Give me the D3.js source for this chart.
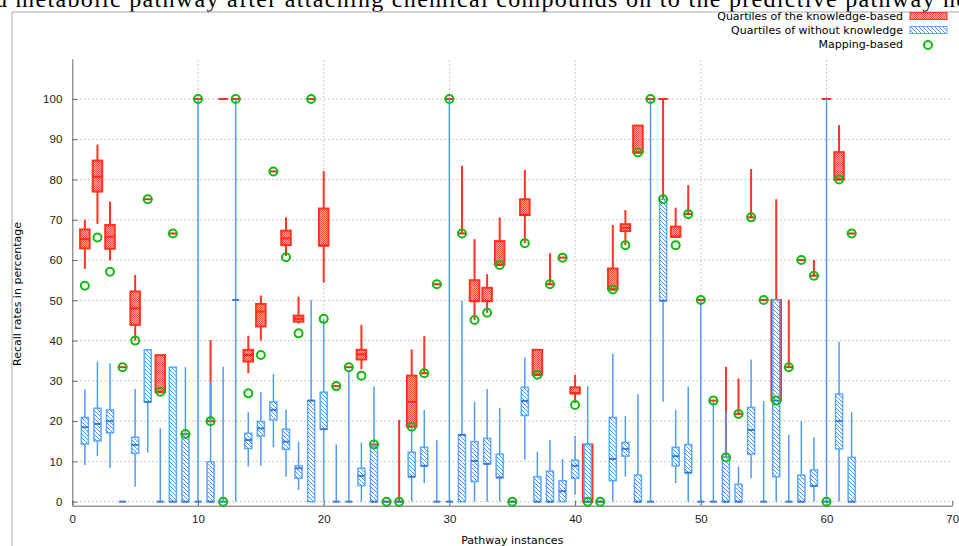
<!DOCTYPE html>
<html>
<head>
<meta charset="utf-8">
<title>Recall rates per pathway instance</title>
<script src="https://d3js.org/d3.v7.min.js"></script>
<style>
  body { margin: 0; background: #fff; }
  svg { display: block; font-family: "DejaVu Sans", sans-serif; }
  .axis path, .axis line { stroke: #666; }
  .axis text { font-size: 11.5px; fill: #222; }
  .grid line { stroke: #bbb; stroke-dasharray: 1.5,2.5; }
</style>
</head>
<body>
<svg id="chart" width="959" height="546"></svg>
<script>
// pathway instance numbers (x positions)
var instances = [1,2,3,4,5,6,7,8,9,10,11,12,13,14,15,16,17,18,19,20,21,22,23,24,25,26,27,28,29,30,
  31,32,33,34,35,36,37,38,39,40,41,42,43,44,45,46,47,48,49,50,51,52,53,54,55,56,57,58,59,60,61,62];

// quartiles of the knowledge-based recall: [min, q1, median, q3, max]
var knowledgeBased = [
  [57.8,62.9,65.2,67.6,70.0],[69.0,77.0,80.7,84.7,88.7],[59.9,62.8,65.8,68.7,74.5],[33.4,33.4,33.4,33.4,33.4],
  [40.0,43.9,48.0,52.2,56.3],[75.1,75.1,75.1,75.1,75.1],[27.2,27.2,27.2,36.4,36.4],[66.6,66.6,66.6,66.6,66.6],
  [16.8,16.8,16.8,16.8,16.8],[100,100,100,100,100],[20.0,20.0,20.0,20.0,40.1],[100,100,100,100,100],
  [100,100,100,100,100],[31.9,34.8,36.4,37.7,41.2],[40.0,43.5,47.2,49.1,51.2],[82.0,82.0,82.0,82.0,82.0],
  [61.0,63.7,65.4,67.3,70.6],[44.2,44.7,45.4,46.2,50.9],[100,100,100,100,100],[54.4,63.6,63.6,72.8,82.1],
  [28.7,28.7,28.7,28.7,28.7],[33.4,33.4,33.4,33.4,33.4],[32.9,35.3,36.6,37.7,43.9],[14.2,14.2,14.2,14.2,14.2],
  [0,0,0,0,0],[0,0,0,0,20.3],[18.6,18.6,24.8,31.3,37.8],[31.9,31.9,31.9,31.9,41.1],
  [54.0,54.0,54.0,54.0,54.0],[100,100,100,100,100],[66.6,66.6,66.6,66.6,83.4],[45.1,49.8,49.8,55.0,65.2],
  [46.9,49.8,49.8,53.1,56.5],[58.8,58.8,58.8,64.7,70.6],[0,0,0,0,0],[64.2,71.2,71.2,75.1,82.4],
  [31.5,31.5,31.5,37.7,37.7],[54.0,54.0,54.0,54.0,61.7],[60.6,60.6,60.6,60.6,60.6],[24.5,26.9,26.9,28.4,31.5],
  [0,0,0,14.2,14.2],[0,0,0,0,0],[52.7,52.7,52.7,57.9,68.7],[63.7,67.2,68.0,68.9,72.4],
  [86.7,86.7,86.7,93.4,93.4],[100,100,100,100,100],[75.1,75.1,100,75.1,100],[65.8,65.8,65.8,68.3,73.0],
  [71.4,71.4,71.4,71.4,78.6],[50.1,50.1,50.1,50.1,50.1],[25.1,25.1,25.1,25.1,25.1],[11.0,11.0,11.0,11.0,33.5],
  [21.8,21.8,21.8,21.8,30.6],[70.6,70.6,70.6,70.6,82.6],[50.1,50.1,50.1,50.1,50.1],[25.1,25.1,25.1,50.1,75.1],
  [33.4,33.4,33.4,33.4,50.1],[60.0,60.0,60.0,60.0,60.0],[56.1,56.1,56.1,56.1,60.0],[100,100,100,100,100],
  [80.0,80.0,80.0,86.8,93.5],[66.6,66.6,66.6,66.6,66.6]
];

// quartiles of the recall without knowledge: [min, q1, median, q3, max]
var withoutKnowledge = [
  [9.1,14.3,18.5,20.9,27.9],[11.3,15.1,19.3,23.2,34.8],[8.3,17.1,20.0,22.8,34.4],[0,0,0,0,0],
  [3.7,12.0,14.1,16.0,28.0],[12.2,24.8,24.8,37.7,37.7],[0,0,0,0,18.2],[0,0,0,33.4,33.4],
  [0,0,0,16.6,33.4],[0,0,0,0,100],[0,0,0,9.9,29.8],[0,0,0,0,33.5],
  [0,50.1,50.1,50.1,100],[8.7,13.2,15.3,17.0,22.2],[8.9,16.3,18.2,19.9,27.2],[13.5,20.3,22.8,24.8,31.7],
  [6.2,13.0,14.9,18.0,22.9],[2.9,5.8,8.3,8.9,14.9],[0,0,25.1,25.1,50.1],[0,18.0,18.0,27.2,45.4],
  [0,0,0,0,14.2],[0,0,0,0,32.7],[0,4.0,6.4,8.3,14.7],[0,0,0,13.7,28.6],
  [0,0,0,0,0],[0,0,0,0,0],[0,6.2,6.2,12.3,18.6],[4.6,8.9,8.9,13.5,22.8],
  [0,0,0,0,15.3],[0,0,0,0,100],[0,0,16.6,16.6,49.9],[0,5.0,10.1,14.9,24.8],
  [0,9.4,9.4,15.7,28.0],[0,6.0,6.0,11.8,23.3],[0,0,0,0,0],[10.5,21.4,25.0,28.4,35.8],
  [0,0,0,6.2,12.4],[0,0,0,7.6,15.3],[0,0,2.6,5.2,10.6],[1.7,5.8,8.9,10.3,16.4],
  [0,0,0,14.2,28.7],[0,0,0,0,0],[0,5.2,10.6,20.9,36.8],[6.2,11.3,13.1,14.7,21.3],
  [0,0,0,6.6,26.7],[0,0,0,0,100],[24.8,49.9,49.9,75.1,75.1],[4.6,8.9,11.3,13.5,22.8],
  [0,7.2,7.2,14.2,28.6],[0,0,0,0,50.1],[0,0,0,0,25.0],[0,0,0,11.0,22.4],
  [0,0,0,4.3,8.7],[5.8,11.8,17.8,23.4,35.3],[0,0,0,0,25.0],[0,6.2,25.1,50.1,50.1],
  [0,0,0,0,16.6],[0,0,0,6.6,20.0],[0,3.9,3.9,7.9,16.0],[0,0,0,0,100],
  [0,13.1,20.0,26.7,39.7],[0,0,0,11.0,22.2]
];

// mapping-based recall
var mappingBased = [53.6,65.6,57.1,33.4,40.0,75.1,27.3,66.6,16.8,100,20.0,0,100,26.9,36.4,82.0,60.7,41.8,100,45.4,
  28.7,33.4,31.3,14.2,0,0,18.6,31.9,54.0,100,66.6,45.1,46.9,58.8,0,64.2,31.5,54.0,60.6,24.0,
  0,0,52.7,63.7,86.7,100,75.1,63.7,71.4,50.1,25.1,11.0,21.8,70.6,50.1,25.1,33.4,60.0,56.1,0,80.0,66.6];

var xTicks = [0,10,20,30,40,50,60,70];
var yTicks = [0,10,20,30,40,50,60,70,80,90,100];
var legendLabels = ["Quartiles of the knowledge-based", "Quartiles of without knowledge", "Mapping-based"];

var svg = d3.select("#chart");

var x = d3.scaleLinear().domain([0, 70]).range([72.3, 952.2]),
    y = d3.scaleLinear().domain([-1, 110]).range([505.7, 58.7]);

var redBoxW = 0.76, blueBoxW = 0.56;

// fill patterns
var defs = svg.append("defs");
var pr = defs.append("pattern").attr("id", "redFill")
    .attr("patternUnits", "userSpaceOnUse").attr("width", 2).attr("height", 2);
pr.append("rect").attr("width", 2).attr("height", 2).attr("fill", "#ffb3aa");
pr.append("rect").attr("width", 1).attr("height", 1).attr("fill", "#ff4a3a");
pr.append("rect").attr("x", 1).attr("y", 1).attr("width", 1).attr("height", 1).attr("fill", "#ff4a3a");

var pb = defs.append("pattern").attr("id", "blueFill")
    .attr("patternUnits", "userSpaceOnUse").attr("width", 4).attr("height", 4);
pb.append("rect").attr("width", 4).attr("height", 4).attr("fill", "#fff");
pb.append("path").attr("d", "M0,0L4,4M-1,3L1,5M3,-1L5,1")
    .attr("stroke", "#4596f2").attr("stroke-width", 1);

// title remnant (cut by the page top) and page frame
svg.append("text")
    .attr("x", -5).attr("y", 7)
    .attr("textLength", 972).attr("lengthAdjust", "spacing")
    .style("font-family", "'Liberation Serif', 'Times New Roman', serif")
    .style("font-size", "24px")
    .text("d metabolic pathway after attaching chemical compounds on to the predictive pathway ne");

svg.append("path")
    .attr("d", "M12,546V12H959")
    .attr("fill", "none").attr("stroke", "#aaa").attr("stroke-width", 1);

// grid
var grid = svg.append("g").attr("class", "grid");
grid.selectAll(".hg").data(yTicks).enter().append("line")
    .attr("x1", x(0)).attr("x2", x(70))
    .attr("y1", function(d) { return y(d); }).attr("y2", function(d) { return y(d); });
grid.selectAll(".vg").data(xTicks.slice(1, -1)).enter().append("line")
    .attr("x1", function(d) { return x(d); }).attr("x2", function(d) { return x(d); })
    .attr("y1", y(-1)).attr("y2", y(110));

// axes
svg.append("g")
    .attr("class", "axis")
    .attr("transform", "translate(" + x(0) + ",0)")
    .call(d3.axisLeft(y).tickValues(yTicks).tickSize(-5).tickSizeOuter(0).tickPadding(10));

svg.append("g")
    .attr("class", "axis")
    .attr("transform", "translate(0," + y(-1) + ")")
    .call(d3.axisBottom(x).tickValues(xTicks).tickSize(-5).tickSizeOuter(0).tickPadding(9));

svg.append("text")
    .attr("transform", "translate(21," + 294 + ") rotate(-90)")
    .attr("text-anchor", "middle")
    .style("font-size", "11px")
    .text("Recall rates in percentage");

svg.append("text")
    .attr("x", (x(0) + x(70)) / 2).attr("y", 544)
    .attr("text-anchor", "middle")
    .style("font-size", "11px")
    .text("Pathway instances");

// box drawing
function drawBoxes(data, cls, w, fill, stroke, strokeW, medColor, whiskerColor, whiskerW) {
  var g = svg.append("g").attr("class", cls);
  var rows = data.map(function(d, i) { return {n: instances[i], v: d}; });
  var half = (x(w) - x(0)) / 2;

  g.selectAll(".whisker").data(rows.filter(function(d) { return d.v[4] > d.v[0]; }))
    .enter().append("line")
      .attr("x1", function(d) { return x(d.n); }).attr("x2", function(d) { return x(d.n); })
      .attr("y1", function(d) { return y(d.v[0]); }).attr("y2", function(d) { return y(d.v[4]); })
      .attr("stroke", whiskerColor).attr("stroke-width", whiskerW);

  g.selectAll(".box").data(rows.filter(function(d) { return d.v[3] > d.v[1]; }))
    .enter().append("rect")
      .attr("x", function(d) { return x(d.n) - half; })
      .attr("width", half * 2)
      .attr("y", function(d) { return y(d.v[3]); })
      .attr("height", function(d) { return y(d.v[1]) - y(d.v[3]); })
      .attr("fill", fill).attr("stroke", stroke).attr("stroke-width", strokeW);

  g.selectAll(".median").data(rows)
    .enter().append("line")
      .attr("x1", function(d) { return x(d.n) - half; })
      .attr("x2", function(d) { return x(d.n) + half; })
      .attr("y1", function(d) { return y(d.v[2]); }).attr("y2", function(d) { return y(d.v[2]); })
      .attr("stroke", medColor).attr("stroke-width", 2);
}

drawBoxes(knowledgeBased, "kb", redBoxW, "url(#redFill)", "#ff3322", 2, "#ff2a1a", "#ff3322", 2);
drawBoxes(withoutKnowledge, "wk", blueBoxW, "url(#blueFill)", "#5aa8ff", 1.5, "#3d7bd6", "#4d9df5", 1.5);

// mapping-based points
svg.append("g").selectAll("circle")
  .data(mappingBased)
  .enter().append("circle")
    .attr("cx", function(d, i) { return x(instances[i]); })
    .attr("cy", function(d) { return y(d); })
    .attr("r", 4)
    .attr("fill", "none")
    .attr("stroke", "#11bb11")
    .attr("stroke-width", 2);

// legend
var legend = svg.append("g").attr("class", "legend");
legendLabels.forEach(function(lbl, i) {
  var cy = 16 + i * 14;
  legend.append("text")
    .attr("x", 903).attr("y", cy + 4)
    .attr("text-anchor", "end")
    .style("font-size", "11px")
    .text(lbl);
  if (i === 0) {
    legend.append("rect").attr("x", 910).attr("y", cy - 3.5).attr("width", 37).attr("height", 7)
      .attr("fill", "url(#redFill)").attr("stroke", "#ff3322").attr("stroke-width", 1);
  } else if (i === 1) {
    legend.append("rect").attr("x", 910).attr("y", cy - 3.5).attr("width", 37).attr("height", 7)
      .attr("fill", "url(#blueFill)").attr("stroke", "#5aa8ff").attr("stroke-width", 1);
  } else {
    legend.append("circle").attr("cx", 928).attr("cy", cy + 1).attr("r", 4)
      .attr("fill", "none").attr("stroke", "#11bb11").attr("stroke-width", 2);
  }
});
</script>
</body>
</html>
